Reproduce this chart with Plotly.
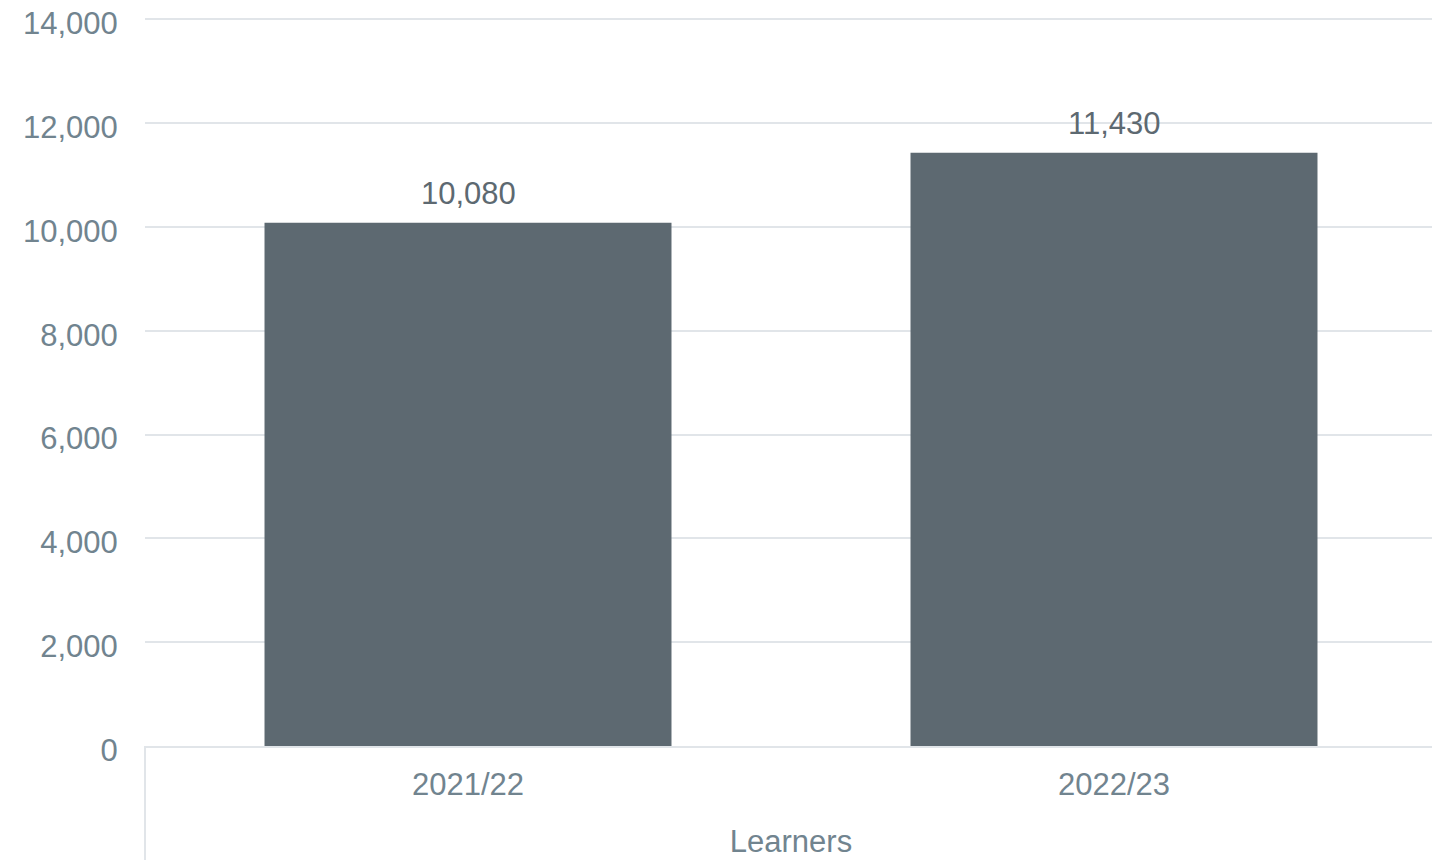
import plotly.graph_objects as go

categories = ["2021/22", "2022/23"]
learners = [10080, 11430]
y_ticks = [0, 2000, 4000, 6000, 8000, 10000, 12000, 14000]
axis_title = "Learners"

FONT = "Liberation Sans, Arial, sans-serif"
BAR = "#5d6971"
TICK = "#71848f"
LABEL = "#5d6971"
GRID = "#e1e5e9"

fig = go.Figure()
fig.add_trace(go.Bar(x=categories, y=learners, marker=dict(color=BAR, line=dict(width=0)),
                     hoverinfo="x+y"))

for c, v in zip(categories, learners):
    fig.add_annotation(x=c, y=v, text=f"{v:,}", showarrow=False, yanchor="bottom",
                       yshift=10, font=dict(family=FONT, size=31, color=LABEL))

# category box lines (Excel-style axis frame)
for xp in (0, 1):
    fig.add_shape(type="line", xref="paper", yref="paper", x0=xp, x1=xp, y0=0, y1=-0.2,
                  line=dict(color=GRID, width=2))

fig.update_layout(
    width=1440, height=860,
    margin=dict(l=137, r=11, t=10, b=122),
    paper_bgcolor="white", plot_bgcolor="white",
    showlegend=False,
    bargap=0.37,
    font=dict(family=FONT, size=31, color=TICK),
    xaxis=dict(showline=True, linecolor=GRID, linewidth=2, showgrid=False,
               tickfont=dict(family=FONT, size=31, color=TICK),
               ticks="outside", ticklen=10, tickcolor="rgba(0,0,0,0)",
               title=dict(text=axis_title, font=dict(family=FONT, size=31, color=TICK), standoff=29),
               automargin=False),
    yaxis=dict(range=[0, 14025], tickvals=y_ticks, tickformat=",", showgrid=True,
               gridcolor=GRID, gridwidth=2, zeroline=False, showline=False,
               tickfont=dict(family=FONT, size=31, color=TICK),
               ticks="outside", ticklen=20, tickcolor="rgba(0,0,0,0)",
               ticklabeloverflow="allow", ticklabelshift=4,
               automargin=False),
)

fig.write_html("out.html")
